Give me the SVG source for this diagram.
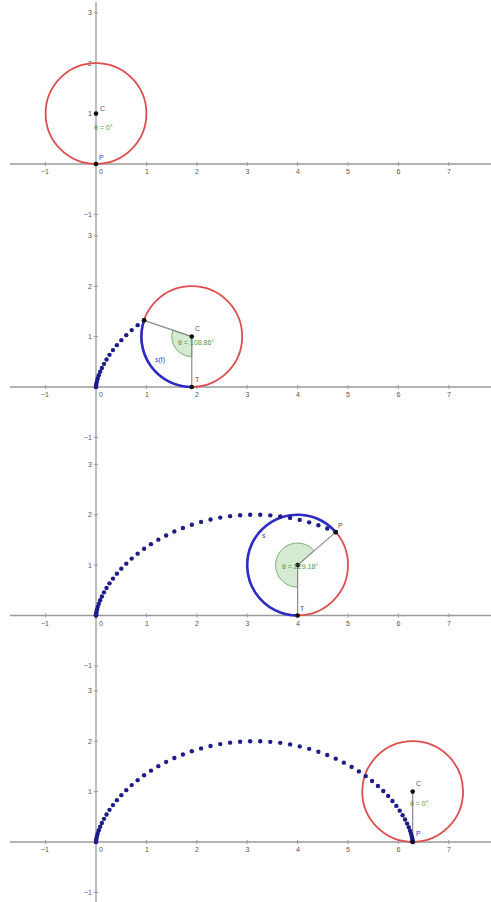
<svg xmlns="http://www.w3.org/2000/svg" width="491" height="902" viewBox="0 0 491 902">
<style>
.ax{stroke:#9a9a9a;stroke-width:1.3;fill:none}
.tk{stroke:#9a9a9a;stroke-width:1}
.num{font-family:"Liberation Sans",Arial,sans-serif;font-size:7px;fill:#555}
.rc{fill:none;stroke:#dd4e4e;stroke-width:1.8}
.ba{fill:none;stroke:#2c2cc8;stroke-width:2.6}
.gl{stroke:#8a8a8a;stroke-width:1.2}
.sec{fill:#d4ead2;stroke:#6aa866;stroke-width:0.9}
.pt{fill:#111}
.lb{font-family:"Liberation Sans",Arial,sans-serif;font-size:7px;fill:#555}
.lbb{font-family:"Liberation Sans",Arial,sans-serif;font-size:7px;fill:#3a3ad0}
.lbg{font-family:"Liberation Sans",Arial,sans-serif;font-size:7px;fill:#4a9a4a}
.d circle{fill:#1c1c8a;r:2.2px}
</style>
<defs>
<g id="axes">
<line class="ax" x1="-86" y1="0" x2="395" y2="0"/>
<g class="tk">
<line x1="-50.4" y1="-2" x2="-50.4" y2="2"/><line x1="50.4" y1="-2" x2="50.4" y2="2"/><line x1="100.8" y1="-2" x2="100.8" y2="2"/><line x1="151.2" y1="-2" x2="151.2" y2="2"/><line x1="201.6" y1="-2" x2="201.6" y2="2"/><line x1="252" y1="-2" x2="252" y2="2"/><line x1="302.4" y1="-2" x2="302.4" y2="2"/><line x1="352.8" y1="-2" x2="352.8" y2="2"/>
<line x1="-2" y1="-151.2" x2="2" y2="-151.2"/><line x1="-2" y1="-100.8" x2="2" y2="-100.8"/><line x1="-2" y1="-50.4" x2="2" y2="-50.4"/><line x1="-2" y1="50.4" x2="2" y2="50.4"/>
</g>
<g class="num" text-anchor="middle">
<text x="-51" y="10">−1</text><text x="5" y="10">0</text><text x="51" y="10">1</text><text x="101" y="10">2</text><text x="151.5" y="10">3</text><text x="202" y="10">4</text><text x="252" y="10">5</text><text x="302.5" y="10">6</text><text x="353" y="10">7</text>
</g>
<g class="num" text-anchor="end">
<text x="-4" y="-148.7">3</text><text x="-4" y="-98.3">2</text><text x="-4" y="-47.9">1</text><text x="-4" y="52.9">−1</text>
</g>
</g>
<g id="cA" class="d">
<circle cx="0" cy="0" r="2.2"/><circle cx="0.01" cy="-0.25" r="2.2"/><circle cx="0.07" cy="-1" r="2.2"/><circle cx="0.23" cy="-2.25" r="2.2"/><circle cx="0.53" cy="-3.98" r="2.2"/><circle cx="1.04" cy="-6.17" r="2.2"/><circle cx="1.78" cy="-8.8" r="2.2"/><circle cx="2.81" cy="-11.85" r="2.2"/><circle cx="4.17" cy="-15.29" r="2.2"/><circle cx="5.88" cy="-19.07" r="2.2"/><circle cx="7.99" cy="-23.17" r="2.2"/><circle cx="10.52" cy="-27.54" r="2.2"/><circle cx="13.51" cy="-32.14" r="2.2"/><circle cx="16.96" cy="-36.92" r="2.2"/><circle cx="20.89" cy="-41.83" r="2.2"/><circle cx="25.33" cy="-46.83" r="2.2"/><circle cx="30.26" cy="-51.87" r="2.2"/><circle cx="35.7" cy="-56.89" r="2.2"/><circle cx="41.64" cy="-61.85" r="2.2"/><circle cx="48.07" cy="-66.69" r="2.2"/>
</g>
<g id="cB" class="d">
<circle cx="54.97" cy="-71.37" r="2.2"/><circle cx="62.33" cy="-75.84" r="2.2"/><circle cx="70.13" cy="-80.06" r="2.2"/><circle cx="78.34" cy="-83.98" r="2.2"/><circle cx="86.92" cy="-87.56" r="2.2"/><circle cx="95.84" cy="-90.78" r="2.2"/><circle cx="105.06" cy="-93.59" r="2.2"/><circle cx="114.54" cy="-95.97" r="2.2"/><circle cx="124.24" cy="-97.89" r="2.2"/><circle cx="134.1" cy="-99.34" r="2.2"/><circle cx="144.09" cy="-100.3" r="2.2"/><circle cx="154.14" cy="-100.76" r="2.2"/><circle cx="164.22" cy="-100.71" r="2.2"/><circle cx="174.27" cy="-100.17" r="2.2"/><circle cx="184.24" cy="-99.13" r="2.2"/><circle cx="194.08" cy="-97.6" r="2.2"/><circle cx="203.74" cy="-95.6" r="2.2"/><circle cx="213.18" cy="-93.14" r="2.2"/><circle cx="222.36" cy="-90.26" r="2.2"/><circle cx="231.22" cy="-86.99" r="2.2"/><circle cx="239.74" cy="-83.34" r="2.2"/>
</g>
<g id="cC" class="d">
<circle cx="247.88" cy="-79.37" r="2.2"/><circle cx="255.61" cy="-75.11" r="2.2"/><circle cx="262.89" cy="-70.6" r="2.2"/><circle cx="269.72" cy="-65.89" r="2.2"/><circle cx="276.07" cy="-61.02" r="2.2"/><circle cx="281.92" cy="-56.05" r="2.2"/><circle cx="287.28" cy="-51.02" r="2.2"/><circle cx="292.13" cy="-45.99" r="2.2"/><circle cx="296.48" cy="-41" r="2.2"/><circle cx="300.33" cy="-36.1" r="2.2"/><circle cx="303.7" cy="-31.35" r="2.2"/><circle cx="306.61" cy="-26.79" r="2.2"/><circle cx="309.07" cy="-22.46" r="2.2"/><circle cx="311.11" cy="-18.41" r="2.2"/><circle cx="312.76" cy="-14.68" r="2.2"/><circle cx="314.06" cy="-11.31" r="2.2"/><circle cx="315.03" cy="-8.33" r="2.2"/><circle cx="315.74" cy="-5.77" r="2.2"/><circle cx="316.2" cy="-3.66" r="2.2"/><circle cx="316.48" cy="-2.01" r="2.2"/><circle cx="316.62" cy="-0.84" r="2.2"/><circle cx="316.67" cy="-0.17" r="2.2"/><circle cx="316.67" cy="0" r="2.2"/>
</g>
</defs>
<rect width="491" height="902" fill="#fff"/>
<line id="y-axis" class="ax" x1="96" y1="2" x2="96" y2="902"/>

<g id="panel1" transform="translate(96,164)">
<use href="#axes"/>
<circle id="circle1" class="rc" cx="0" cy="-50.4" r="50.4"/>
<circle class="pt" cx="0" cy="-50.4" r="2.3"/>
<circle class="pt" cx="0" cy="0" r="2.3"/>
<text class="lb" x="4" y="-53">C</text>
<text class="lbg" x="-2" y="-34">θ = 0°</text>
<text class="lbb" x="3" y="-4">P</text>
</g>

<g id="panel2" transform="translate(96,387)">
<use href="#axes"/>
<circle id="circle2" class="rc" cx="95.76" cy="-50.4" r="50.4"/>
<path class="sec" d="M95.76 -50.4 L95.76 -30.4 A20 20 0 0 1 76.84 -56.87 Z"/>
<path class="ba" d="M95.76 0 A50.4 50.4 0 0 1 48.07 -66.69"/>
<line class="gl" x1="95.76" y1="-50.4" x2="48.07" y2="-66.69"/>
<line class="gl" x1="95.76" y1="-50.4" x2="95.76" y2="0"/>
<use href="#cA"/>
<circle class="pt" cx="95.76" cy="-50.4" r="2.3"/>
<circle class="pt" cx="95.76" cy="0" r="2.3"/>
<circle class="pt" cx="48.07" cy="-66.69" r="2.3"/>
<text class="lb" x="99" y="-56">C</text>
<text class="lbg" x="82" y="-42">θ = 108.86°</text>
<text class="lb" x="99" y="-5">T</text>
<text class="lbb" x="59" y="-25">s(t)</text>
</g>

<g id="panel3" transform="translate(96,615.5)">
<use href="#axes"/>
<circle id="circle3" class="rc" cx="201.6" cy="-50.4" r="50.4"/>
<path class="sec" d="M201.6 -50.4 L201.6 -28.4 A22 22 0 1 1 218.25 -64.78 Z"/>
<path class="ba" d="M201.6 0 A50.4 50.4 0 1 1 239.74 -83.34"/>
<line class="gl" x1="201.6" y1="-50.4" x2="239.74" y2="-83.34"/>
<line class="gl" x1="201.6" y1="-50.4" x2="201.6" y2="0"/>
<use href="#cA"/>
<use href="#cB"/>
<circle class="pt" cx="201.6" cy="-50.4" r="2.3"/>
<circle class="pt" cx="201.6" cy="0" r="2.3"/>
<circle class="pt" cx="239.74" cy="-83.34" r="2.3"/>
<text class="lb" x="242" y="-88">P</text>
<text class="lbg" x="186" y="-47">θ = 229.18°</text>
<text class="lb" x="204" y="-5">T</text>
<text class="lbb" x="166" y="-78">s</text>
</g>

<g id="panel4" transform="translate(96,842)">
<use href="#axes"/>
<circle id="circle4" class="rc" cx="316.67" cy="-50.4" r="50.4"/>
<line class="gl" x1="316.67" y1="-50.4" x2="316.67" y2="0"/>
<use href="#cA"/>
<use href="#cB"/>
<use href="#cC"/>
<circle class="pt" cx="316.67" cy="-50.4" r="2.3"/>
<circle class="pt" cx="316.67" cy="0" r="2.3"/>
<text class="lb" x="320" y="-56">C</text>
<text class="lbg" x="314" y="-36">θ = 0°</text>
<text class="lbb" x="320" y="-6">P</text>
</g>
</svg>
